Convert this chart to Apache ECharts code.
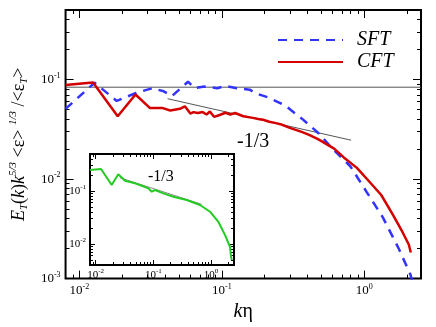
<!DOCTYPE html>
<html>
<head>
<meta charset="utf-8">
<script src="https://cdn.jsdelivr.net/npm/echarts@6/dist/echarts.min.js"></script>
<style>
  html, body { margin: 0; padding: 0; background: #fff; }
  #chart { width: 436px; height: 327px; }
</style>
</head>
<body>
<div id="chart"></div>
<script>
// SFT spectrum (blue dashed)
const sftK = [0.008, 0.0128, 0.01828, 0.025, 0.0326, 0.0391, 0.0446, 0.0579, 0.0644, 0.0754, 0.0929, 0.106, 0.127, 0.157, 0.174, 0.215, 0.279, 0.363, 0.473, 0.614, 0.798, 1.037, 1.349, 1.754, 2.11, 2.17]
const sftE = [0.0508, 0.093, 0.061, 0.0733, 0.0819, 0.0762, 0.0682, 0.0951, 0.0819, 0.0851, 0.0819, 0.0865, 0.0819, 0.0791, 0.0724, 0.0656, 0.0546, 0.0407, 0.0292, 0.0194, 0.01346, 0.00745, 0.00412, 0.00197, 0.00109, 0.00095]

// CFT spectrum (red)
const cftK = [0.008, 0.01247, 0.01858, 0.02477, 0.0312, 0.0381, 0.0434, 0.0508, 0.055, 0.0601, 0.0633, 0.0678, 0.0733, 0.0781, 0.0824, 0.0881, 0.0954, 0.106, 0.1146, 0.124, 0.1413, 0.1655, 0.18, 0.195, 0.2153, 0.24, 0.2653, 0.3, 0.363, 0.41, 0.473, 0.614, 0.718, 0.887, 1.094, 1.315, 1.578, 1.848, 2.052, 2.12]
const cftE = [0.0883, 0.0935, 0.0428, 0.0708, 0.0519, 0.0519, 0.0489, 0.0508, 0.0539, 0.0455, 0.0471, 0.0461, 0.0471, 0.0445, 0.0478, 0.0422, 0.0438, 0.0464, 0.0445, 0.0461, 0.0428, 0.0412, 0.0402, 0.0394, 0.0377, 0.0365, 0.0351, 0.0327, 0.0298, 0.0278, 0.0252, 0.0202, 0.0165, 0.01296, 0.00929, 0.00692, 0.00444, 0.00296, 0.0022, 0.00183]

// inset spectrum (green)
const insetK = [0.008, 0.01243, 0.019, 0.0247, 0.0323, 0.0482, 0.063, 0.0819, 0.0938, 0.107, 0.149, 0.222, 0.379, 0.644, 0.961, 1.34, 1.75, 2.13, 2.22, 2.29]
const insetE = [0.249, 0.26, 0.13, 0.2066, 0.156, 0.1396, 0.1259, 0.1124, 0.0969, 0.1043, 0.0903, 0.078, 0.0675, 0.0543, 0.0406, 0.0262, 0.0147, 0.00885, 0.00573, 0.00496]

// reference lines
const flatLine = [[0.008, 0.0838], [2.5, 0.0838]]
const slopeLine = [[0.0416, 0.0642], [0.807, 0.0246]]
const insetSlope = [[0.0265, 0.178], [0.69, 0.056]]

// tick labels (decades)
const xMajor = [0.01, 0.1, 1]
const yMajor = [0.001, 0.01, 0.1]
const insetYMajor = [0.01, 0.1]

const serif = 'Liberation Serif'
const blue = '#3333ff'
const red = '#d40000'
const green = '#22cc22'

// 2..9 x each decade, inside [min, max]
function minorTicks(min, max) {
  const out = []
  for (let e = -4; e <= 1; e++) {
    for (let m = 2; m <= 9; m++) {
      const v = +(m * Math.pow(10, e)).toPrecision(3)
      if (v >= min && v <= max) out.push(v)
    }
  }
  return out
}

const zip = (a, b) => a.map((v, i) => [v, b[i]])
const powLabel = v => '{b|10}{s|' + Math.round(Math.log10(v)) + '}'

function labelRich(size) {
  return {
    b: { fontFamily: serif, fontSize: size, color: '#000', lineHeight: size + 3 },
    s: { fontFamily: serif, fontSize: Math.round(size * 0.62), color: '#000', verticalAlign: 'top', lineHeight: Math.round(size * 0.62) }
  }
}

// one axis = one tick set on one side of a grid
function logAxis(grid, pos, min, max, ticks, len, label) {
  return {
    type: 'log', logBase: 10, gridIndex: grid, position: pos, min: min, max: max,
    axisLine: { show: false },
    splitLine: { show: false },
    axisTick: { show: true, inside: true, length: len, customValues: ticks, lineStyle: { color: '#000', width: 1 } },
    axisLabel: label ? Object.assign({ show: true, customValues: ticks, formatter: powLabel }, label) : { show: false }
  }
}

const xMinor = minorTicks(0.008, 2.5)
const yMinor = minorTicks(0.001, 0.5)
const insetYMinor = minorTicks(0.004, 0.5)

const xLab = { margin: 4, rich: labelRich(13) }
const yLab = { margin: 5, rich: labelRich(13) }
const insetXLab = { margin: 3, rich: labelRich(11) }
const insetYLab = { margin: 4, rich: labelRich(11) }

const xAxes = [
  logAxis(0, 'bottom', 0.008, 2.5, xMajor, 8, xLab),
  logAxis(0, 'bottom', 0.008, 2.5, xMinor, 4),
  logAxis(0, 'top', 0.008, 2.5, xMajor, 8),
  logAxis(0, 'top', 0.008, 2.5, xMinor, 4),
  logAxis(1, 'bottom', 0.008, 2.5, xMajor, 5, insetXLab),
  logAxis(1, 'bottom', 0.008, 2.5, xMinor, 3),
  logAxis(1, 'top', 0.008, 2.5, xMajor, 5),
  logAxis(1, 'top', 0.008, 2.5, xMinor, 3)
]
xAxes[0].name = '{i|k}{n|η}'
xAxes[0].nameLocation = 'middle'
xAxes[0].nameGap = 11
xAxes[0].nameTextStyle = {
  rich: {
    i: { fontFamily: serif, fontSize: 20, fontStyle: 'italic', color: '#000' },
    n: { fontFamily: serif, fontSize: 20, color: '#000' }
  }
}

const yAxes = [
  logAxis(0, 'left', 0.001, 0.5, yMajor, 8, yLab),
  logAxis(0, 'left', 0.001, 0.5, yMinor, 4),
  logAxis(0, 'right', 0.001, 0.5, yMajor, 8),
  logAxis(0, 'right', 0.001, 0.5, yMinor, 4),
  logAxis(1, 'left', 0.004, 0.5, insetYMajor, 5, insetYLab),
  logAxis(1, 'left', 0.004, 0.5, insetYMinor, 3),
  logAxis(1, 'right', 0.004, 0.5, insetYMajor, 5),
  logAxis(1, 'right', 0.004, 0.5, insetYMinor, 3)
]
yAxes[0].name = '{i|E}{sub|T}{n|(}{i|k}{n|)}{i|k}{sup|5/3}{n| <ε> }{sup|1/3}{n| /<ε}{sub|T}{n|>}'
yAxes[0].nameLocation = 'middle'
yAxes[0].nameRotate = 90
yAxes[0].nameGap = 22
yAxes[0].nameTextStyle = {
  rich: {
    i: { fontFamily: serif, fontSize: 18, fontStyle: 'italic', color: '#000', lineHeight: 22 },
    n: { fontFamily: serif, fontSize: 18, color: '#000', lineHeight: 22 },
    sub: { fontFamily: serif, fontSize: 11, fontStyle: 'italic', color: '#000', verticalAlign: 'bottom', lineHeight: 11 },
    sup: { fontFamily: serif, fontSize: 11, fontStyle: 'italic', color: '#000', verticalAlign: 'top', lineHeight: 11 }
  }
}

const chart = echarts.init(document.getElementById('chart'))

chart.setOption({
  animation: false,
  backgroundColor: '#fff',
  grid: [
    { left: 57, right: 15, top: 10, bottom: 37, show: true, borderColor: '#000', borderWidth: 2, backgroundColor: 'transparent' },
    { left: 90, top: 154, width: 144, height: 111, show: true, borderColor: '#000', borderWidth: 2, backgroundColor: '#fff' }
  ],
  xAxis: xAxes,
  yAxis: yAxes,
  legend: {
    data: ['SFT', 'CFT'],
    orient: 'vertical',
    left: 277, top: 30, padding: 0,
    itemWidth: 65, itemHeight: 14, itemGap: 2,
    selectedMode: false,
    itemStyle: { opacity: 0 },
    textStyle: { fontFamily: serif, fontStyle: 'italic', fontSize: 20, color: '#000', padding: [0, 0, 0, 9], lineHeight: 18 }
  },
  graphic: [
    { type: 'text', x: 237, y: 142, style: { text: '-1/3', font: '20px "Liberation Serif"', fill: '#000', verticalAlign: 'middle' } },
    { type: 'text', x: 148, y: 177, style: { text: '-1/3', font: '16px "Liberation Serif"', fill: '#000', verticalAlign: 'middle' }, z: 100 }
  ],
  series: [
    { type: 'line', xAxisIndex: 0, yAxisIndex: 0, data: flatLine, symbol: 'none', lineStyle: { color: '#555', width: 1 }, silent: true },
    { type: 'line', xAxisIndex: 0, yAxisIndex: 0, data: slopeLine, symbol: 'none', lineStyle: { color: '#555', width: 1 }, silent: true },
    { name: 'SFT', type: 'line', xAxisIndex: 0, yAxisIndex: 0, data: zip(sftK, sftE), symbol: 'none',
      itemStyle: { color: blue }, lineStyle: { color: blue, width: 2.5, type: [9, 7] } },
    { name: 'CFT', type: 'line', xAxisIndex: 0, yAxisIndex: 0, data: zip(cftK, cftE), symbol: 'none',
      itemStyle: { color: red }, lineStyle: { color: red, width: 2.5 } },
    { type: 'line', xAxisIndex: 4, yAxisIndex: 4, data: insetSlope, symbol: 'none', lineStyle: { color: '#888', width: 1 }, silent: true },
    { type: 'line', xAxisIndex: 4, yAxisIndex: 4, data: zip(insetK, insetE), symbol: 'none',
      itemStyle: { color: green }, lineStyle: { color: green, width: 2 } }
  ]
})
</script>
</body>
</html>
